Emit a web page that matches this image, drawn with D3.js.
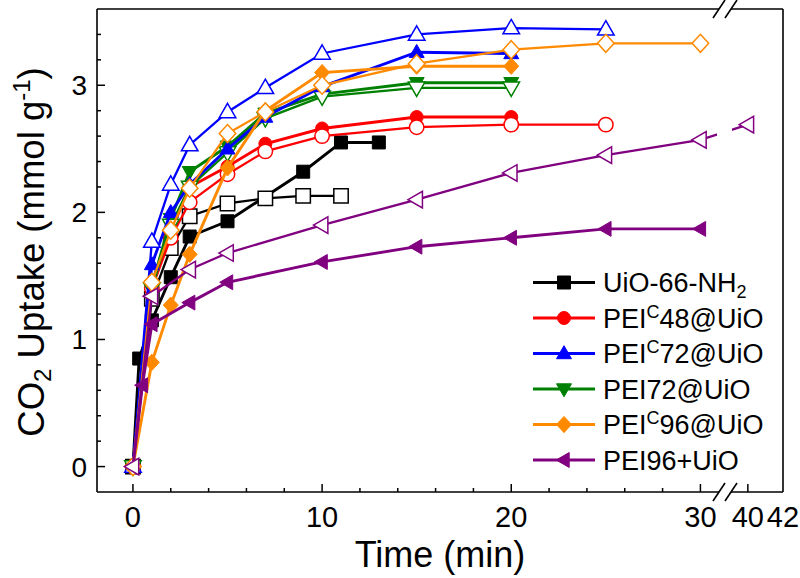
<!DOCTYPE html>
<html>
<head>
<meta charset="utf-8">
<script src="https://cdn.jsdelivr.net/npm/d3@7"></script>
<style>
  body { margin: 0; background: #fff; }
  svg { display: block; }
  text { font-family: "Liberation Sans", Arial, sans-serif; fill: #000; }
</style>
</head>
<body>
<div id="chart"></div>
<script>
// data: time (min) and CO2 uptake (mmol/g)
var uioTimeF = [0, 0.33, 1, 2, 3, 5, 9, 11, 13];
var uioValF  = [0, 0.85, 1.15, 1.49, 1.81, 1.93, 2.32, 2.55, 2.55];
var uioTimeO = [0, 1, 2, 3, 5, 7, 9, 11];
var uioValO  = [0, 1.32, 1.72, 1.97, 2.07, 2.11, 2.13, 2.13];

var c48TimeF = [0, 1, 2, 3, 5, 7, 10, 15, 20];
var c48ValF  = [0, 1.45, 1.85, 2.2, 2.36, 2.54, 2.66, 2.75, 2.75];
var c48TimeO = [0, 1, 2, 3, 5, 7, 10, 15, 20, 25];
var c48ValO  = [0, 1.4, 1.8, 2.08, 2.3, 2.48, 2.6, 2.67, 2.69, 2.69];

var c72TimeF = [0, 1, 2, 3, 5, 7, 10, 15, 20];
var c72ValF  = [0, 1.59, 2.0, 2.22, 2.5, 2.75, 2.99, 3.26, 3.25];
var c72TimeO = [0, 1, 2, 3, 5, 7, 10, 15, 20, 25];
var c72ValO  = [0, 1.77, 2.22, 2.53, 2.79, 2.98, 3.25, 3.4, 3.45, 3.44];

var p72TimeF = [0, 1, 2, 3, 5, 7, 10, 15, 20];
var p72ValF  = [0, 1.42, 1.95, 2.32, 2.52, 2.78, 2.93, 3.02, 3.02];
var p72TimeO = [0, 1, 2, 3, 5, 7, 10, 15, 20];
var p72ValO  = [0, 1.4, 1.9, 2.2, 2.47, 2.74, 2.91, 2.98, 2.98];

var c96TimeF = [0, 1, 2, 3, 5, 7, 10, 15, 20];
var c96ValF  = [0, 0.82, 1.27, 1.67, 2.35, 2.8, 3.1, 3.15, 3.15];
var c96TimeO = [0, 1, 2, 3, 5, 7, 10, 15, 20, 25, 30];
var c96ValO  = [0, 1.45, 1.86, 2.19, 2.62, 2.79, 3.0, 3.17, 3.28, 3.33, 3.33];

var p96TimeF = [0, 0.5, 1, 3, 5, 10, 15, 20, 25, 30];
var p96ValF  = [0, 0.64, 1.12, 1.29, 1.45, 1.61, 1.73, 1.8, 1.87, 1.87];
var p96TimeO = [0, 1, 3, 5, 10, 15, 20, 25, 30, 40];
var p96ValO  = [0, 1.34, 1.55, 1.68, 1.9, 2.1, 2.31, 2.45, 2.57, 2.69];

var legendNames = ["UiO-66-NH2", "PEIC48@UiO", "PEIC72@UiO", "PEI72@UiO", "PEIC96@UiO", "PEI96+UiO"];
var xTickLabels = [0, 10, 20, 30, 40, 42];
var yTickLabels = [0, 1, 2, 3];

// styles, one per material
var colors = ["#000000", "#ff0000", "#0000ff", "#008000", "#ff8a00", "#800080"];
var shapes = ["square", "circle", "up", "down", "diamond", "left"];

var series = [
  {k: 0, t: uioTimeF, v: uioValF, open: false},
  {k: 0, t: uioTimeO, v: uioValO, open: true},
  {k: 1, t: c48TimeF, v: c48ValF, open: false},
  {k: 1, t: c48TimeO, v: c48ValO, open: true},
  {k: 3, t: p72TimeF, v: p72ValF, open: false},
  {k: 3, t: p72TimeO, v: p72ValO, open: true},
  {k: 2, t: c72TimeF, v: c72ValF, open: false},
  {k: 2, t: c72TimeO, v: c72ValO, open: true},
  {k: 4, t: c96TimeF, v: c96ValF, open: false},
  {k: 4, t: c96TimeO, v: c96ValO, open: true},
  {k: 5, t: p96TimeF, v: p96ValF, open: false},
  {k: 5, t: p96TimeO, v: p96ValO, open: true}
];

var W = 800, H = 578;
var pl = 97, pr = 783, pt = 9, pb = 492;
var brk = 725; // pixel position of the axis break

var svg = d3.select("#chart").append("svg")
    .attr("width", W)
    .attr("height", H);

// broken x scale: -1.9..31.3 then 38.7..42
var x = d3.scaleLinear()
    .domain([-1.9, 31.3, 38.7, 42])
    .range([pl, brk, brk, pr]);
var y = d3.scaleLinear()
    .domain([-0.2, 3.6])
    .range([pb, pt]);

function shape(type, r) {
  switch (type) {
    case "square": return "M" + (-r) + "," + (-r) + "H" + r + "V" + r + "H" + (-r) + "Z";
    case "circle": return d3.symbol(d3.symbolCircle, Math.PI * r * r)();
    case "up": return "M0," + (-1.2 * r) + "L" + (1.15 * r) + "," + (0.8 * r) + "L" + (-1.15 * r) + "," + (0.8 * r) + "Z";
    case "down": return "M0," + (1.2 * r) + "L" + (1.15 * r) + "," + (-0.8 * r) + "L" + (-1.15 * r) + "," + (-0.8 * r) + "Z";
    case "left": return "M" + (-1.2 * r) + ",0L" + (0.8 * r) + "," + (-1.15 * r) + "L" + (0.8 * r) + "," + (1.15 * r) + "Z";
    case "diamond": return "M0," + (-1.25 * r) + "L" + (1.15 * r) + ",0L0," + (1.25 * r) + "L" + (-1.15 * r) + ",0Z";
  }
}

// clip that leaves a gap in the lines at the break
var clip = svg.append("defs").append("clipPath").attr("id", "gap");
clip.append("rect").attr("x", 0).attr("y", 0).attr("width", brk - 8).attr("height", H);
clip.append("rect").attr("x", brk + 7).attr("y", 0).attr("width", W).attr("height", H);

var line = d3.line()
    .x(function(d) { return x(d[0]); })
    .y(function(d) { return y(d[1]); });

series.forEach(function(s) {
  var pts = s.t.map(function(t, i) { return [t, s.v[i]]; });
  var col = colors[s.k];
  var g = svg.append("g");
  g.append("path")
      .datum(pts)
      .attr("clip-path", "url(#gap)")
      .attr("fill", "none")
      .attr("stroke", col)
      .attr("stroke-width", s.open ? 2.3 : 2.9)
      .attr("d", line);
  g.selectAll("path.m")
      .data(pts)
      .enter().append("path")
      .attr("class", "m")
      .attr("transform", function(d) { return "translate(" + x(d[0]) + "," + y(d[1]) + ")"; })
      .attr("d", shape(shapes[s.k], s.open ? 7.2 : 6.5))
      .attr("fill", s.open ? "#fff" : col)
      .attr("stroke", col)
      .attr("stroke-width", s.open ? 1.5 : 1);
});

// frame
var frame = svg.append("g").attr("stroke", "#000").attr("stroke-width", 1.6).attr("fill", "none");
frame.append("line").attr("x1", pl).attr("x2", pl).attr("y1", pt).attr("y2", pb);
frame.append("line").attr("x1", pr).attr("x2", pr).attr("y1", pt).attr("y2", pb);
frame.append("line").attr("x1", pl).attr("x2", brk - 6).attr("y1", pt).attr("y2", pt);
frame.append("line").attr("x1", brk + 6).attr("x2", pr).attr("y1", pt).attr("y2", pt);
frame.append("line").attr("x1", pl).attr("x2", brk - 6).attr("y1", pb).attr("y2", pb);
frame.append("line").attr("x1", brk + 6).attr("x2", pr).attr("y1", pb).attr("y2", pb);

// break marks
[pt, pb].forEach(function(yy) {
  [-6, 6].forEach(function(dx) {
    frame.append("line")
        .attr("x1", brk + dx - 6).attr("y1", yy + 9)
        .attr("x2", brk + dx + 6).attr("y2", yy - 9);
  });
});

// x ticks (inward)
var xMinor = d3.range(0, 31, 2).concat([40]);
svg.append("g").selectAll("line")
    .data(xMinor)
    .enter().append("line")
    .attr("x1", function(d) { return x(d); })
    .attr("x2", function(d) { return x(d); })
    .attr("y1", pb)
    .attr("y2", function(d) { return pb - (d % 10 === 0 ? 8 : 4); })
    .attr("stroke", "#000")
    .attr("stroke-width", 1.5);

svg.append("g").selectAll("text")
    .data(xTickLabels)
    .enter().append("text")
    .attr("x", function(d) { return x(d); })
    .attr("y", 527)
    .attr("text-anchor", "middle")
    .attr("font-size", 29)
    .text(function(d) { return d; });

// y ticks (inward)
var yMinor = d3.range(0, 36, 2).map(function(d) { return d / 10; });
svg.append("g").selectAll("line")
    .data(yMinor)
    .enter().append("line")
    .attr("x1", pl)
    .attr("x2", function(d, i) { return pl + (i % 5 === 0 ? 8 : 4); })
    .attr("y1", function(d) { return y(d); })
    .attr("y2", function(d) { return y(d); })
    .attr("stroke", "#000")
    .attr("stroke-width", 1.5);

svg.append("g").selectAll("text")
    .data(yTickLabels)
    .enter().append("text")
    .attr("x", 87)
    .attr("y", function(d) { return y(d) + 10; })
    .attr("text-anchor", "end")
    .attr("font-size", 28)
    .text(function(d) { return d; });

// axis titles
svg.append("text")
    .attr("x", (pl + pr) / 2)
    .attr("y", 567)
    .attr("text-anchor", "middle")
    .attr("font-size", 36)
    .text("Time (min)");

var yt = svg.append("text")
    .attr("transform", "translate(44,252) rotate(-90)")
    .attr("text-anchor", "middle")
    .attr("font-size", 36.5);
yt.append("tspan").text("CO");
yt.append("tspan").attr("font-size", 24).attr("dy", 7).text("2");
yt.append("tspan").attr("dy", -7).text(" Uptake (mmol g");
yt.append("tspan").attr("font-size", 24).attr("dy", -14).text("-1");
yt.append("tspan").attr("dy", 14).text(")");

// legend
var legend = svg.append("g");
legendNames.forEach(function(name, i) {
  var cy = 282.5 + i * 35.5;
  legend.append("line")
      .attr("x1", 533).attr("x2", 595)
      .attr("y1", cy).attr("y2", cy)
      .attr("stroke", colors[i])
      .attr("stroke-width", 2.8);
  legend.append("path")
      .attr("transform", "translate(564," + cy + ")")
      .attr("d", shape(shapes[i], 6.5))
      .attr("fill", colors[i])
      .attr("stroke", colors[i]);
  var t = legend.append("text")
      .attr("x", 603)
      .attr("y", cy + 9.5)
      .attr("font-size", 27);
  if (name.indexOf("PEIC") === 0) {
    t.append("tspan").text("PEI");
    t.append("tspan").attr("font-size", 18).attr("dy", -10).text("C");
    t.append("tspan").attr("dy", 10).text(name.slice(4));
  } else if (name === "UiO-66-NH2") {
    t.append("tspan").text("UiO-66-NH");
    t.append("tspan").attr("font-size", 18).attr("dy", 6).text("2");
  } else {
    t.text(name);
  }
});
</script>
</body>
</html>
